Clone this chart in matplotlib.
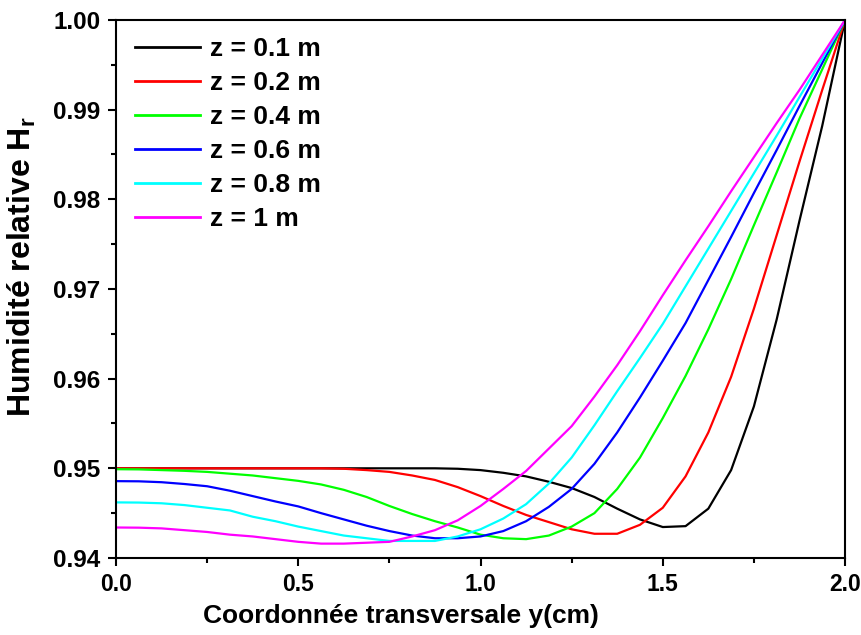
import numpy as np
import matplotlib
matplotlib.use("Agg")
import matplotlib.pyplot as plt
from matplotlib.ticker import MultipleLocator, FormatStrFormatter

plt.rcParams['font.family'] = ['Liberation Sans', 'DejaVu Sans']
plt.rcParams['font.weight'] = 'bold'
plt.rcParams['mathtext.fontset'] = 'custom'
plt.rcParams['mathtext.rm'] = 'Liberation Sans:bold'
plt.rcParams['mathtext.bf'] = 'Liberation Sans:bold'

# transverse coordinate (cm), 33 points
y_cm = np.linspace(0.0, 2.0, 33)

# relative humidity profiles
h_z01 = [0.9500, 0.9500, 0.9500, 0.9500, 0.9500, 0.9500, 0.9500, 0.9500, 0.9500,
         0.9500, 0.9500, 0.9500, 0.9500, 0.9500, 0.9500, 0.94995, 0.9498, 0.9495,
         0.9491, 0.9485, 0.9478, 0.9468, 0.9455, 0.9443, 0.94345, 0.94355, 0.9455,
         0.9498, 0.9569, 0.9666, 0.9776, 0.9882, 1.0000]
h_z02 = [0.9500, 0.9500, 0.9500, 0.9500, 0.9500, 0.9500, 0.9500, 0.9500, 0.9500,
         0.9500, 0.94995, 0.9498, 0.9496, 0.9492, 0.9487, 0.9479, 0.9469, 0.9458,
         0.9448, 0.9440, 0.9432, 0.9427, 0.9427, 0.9437, 0.9456, 0.9491, 0.9540,
         0.9602, 0.9678, 0.9760, 0.9842, 0.9922, 1.0000]
h_z04 = [0.9499, 0.94988, 0.9498, 0.94972, 0.9496, 0.9494, 0.9492, 0.9489, 0.9486,
         0.9482, 0.9476, 0.9468, 0.9458, 0.9449, 0.9441, 0.9434, 0.9426, 0.9422,
         0.9421, 0.9425, 0.9435, 0.9450, 0.9477, 0.9512, 0.9556, 0.9603, 0.9655,
         0.9711, 0.9771, 0.9830, 0.9890, 0.9945, 1.0000]
h_z06 = [0.94857, 0.94855, 0.94845, 0.94825, 0.9480, 0.9475, 0.9469, 0.9463, 0.94575,
         0.9450, 0.9443, 0.9436, 0.9430, 0.9425, 0.9422, 0.9422, 0.9424, 0.9430,
         0.9441, 0.9457, 0.9477, 0.9505, 0.9540, 0.9579, 0.9620, 0.9662, 0.9710,
         0.9758, 0.9807, 0.9855, 0.9904, 0.9952, 1.0000]
h_z08 = [0.9462, 0.94618, 0.9461, 0.9459, 0.9456, 0.9453, 0.9446, 0.9441, 0.9435,
         0.9430, 0.9425, 0.9422, 0.9419, 0.9419, 0.9419, 0.9424, 0.9432, 0.9444,
         0.9460, 0.9483, 0.9512, 0.9548, 0.9586, 0.9623, 0.9661, 0.9703, 0.9745,
         0.9787, 0.9829, 0.9871, 0.9914, 0.9957, 1.0000]
h_z1 = [0.9434, 0.94338, 0.9433, 0.9431, 0.9429, 0.9426, 0.9424, 0.9421, 0.9418,
        0.9416, 0.9416, 0.9417, 0.9418, 0.9424, 0.9431, 0.9442, 0.9458, 0.9477,
        0.9497, 0.9522, 0.9547, 0.9580, 0.9615, 0.9653, 0.9693, 0.9732, 0.9770,
        0.9809, 0.9847, 0.9885, 0.9922, 0.9961, 1.0000]

series = [h_z01, h_z02, h_z04, h_z06, h_z08, h_z1]
labels = ['z = 0.1 m', 'z = 0.2 m', 'z = 0.4 m', 'z = 0.6 m', 'z = 0.8 m', 'z = 1 m']
colors = ['#000000', '#ff0000', '#00ff00', '#0000ff', '#00ffff', '#ff00ff']

fig = plt.figure(figsize=(8.62, 6.35), dpi=100)
ax = fig.add_axes([0.1346, 0.1213, 0.8457, 0.8472])

for h, lab, c in zip(series, labels, colors):
    ax.plot(y_cm, h, color=c, lw=1.6, label=lab)

ax.set_xlim(0.0, 2.0)
ax.set_ylim(0.94, 1.00)
ax.xaxis.set_major_locator(MultipleLocator(0.5))
ax.xaxis.set_minor_locator(MultipleLocator(0.25))
ax.yaxis.set_major_locator(MultipleLocator(0.01))
ax.yaxis.set_minor_locator(MultipleLocator(0.005))
ax.xaxis.set_major_formatter(FormatStrFormatter('%.1f'))
ax.yaxis.set_major_formatter(FormatStrFormatter('%.2f'))

ax.tick_params(which='both', direction='out', width=1.5, top=False, right=False)
ax.tick_params(axis='x', labelsize=16.5)
ax.tick_params(axis='y', labelsize=17.5)
ax.tick_params(which='major', length=6, pad=5)
ax.tick_params(which='minor', length=3.5)
for sp in ax.spines.values():
    sp.set_linewidth(1.5)

ax.set_xlabel('Coordonnée transversale y(cm)', fontsize=19, fontweight='bold', labelpad=5)
ax.xaxis.set_label_coords(0.391, -0.085)
ax.set_ylabel(r'Humidité relative H$_\mathrm{r}$', fontsize=23, fontweight='bold')
ax.yaxis.set_label_coords(-0.107, 0.541)

leg = ax.legend(loc='upper left', bbox_to_anchor=(0.019, 0.978), frameon=False,
                fontsize=19, handlelength=2.45, labelspacing=0.38, handletextpad=0.4,
                borderaxespad=0.0, borderpad=0.2)
for line in leg.get_lines():
    line.set_linewidth(2.0)

fig.savefig('out.png', dpi=100)
